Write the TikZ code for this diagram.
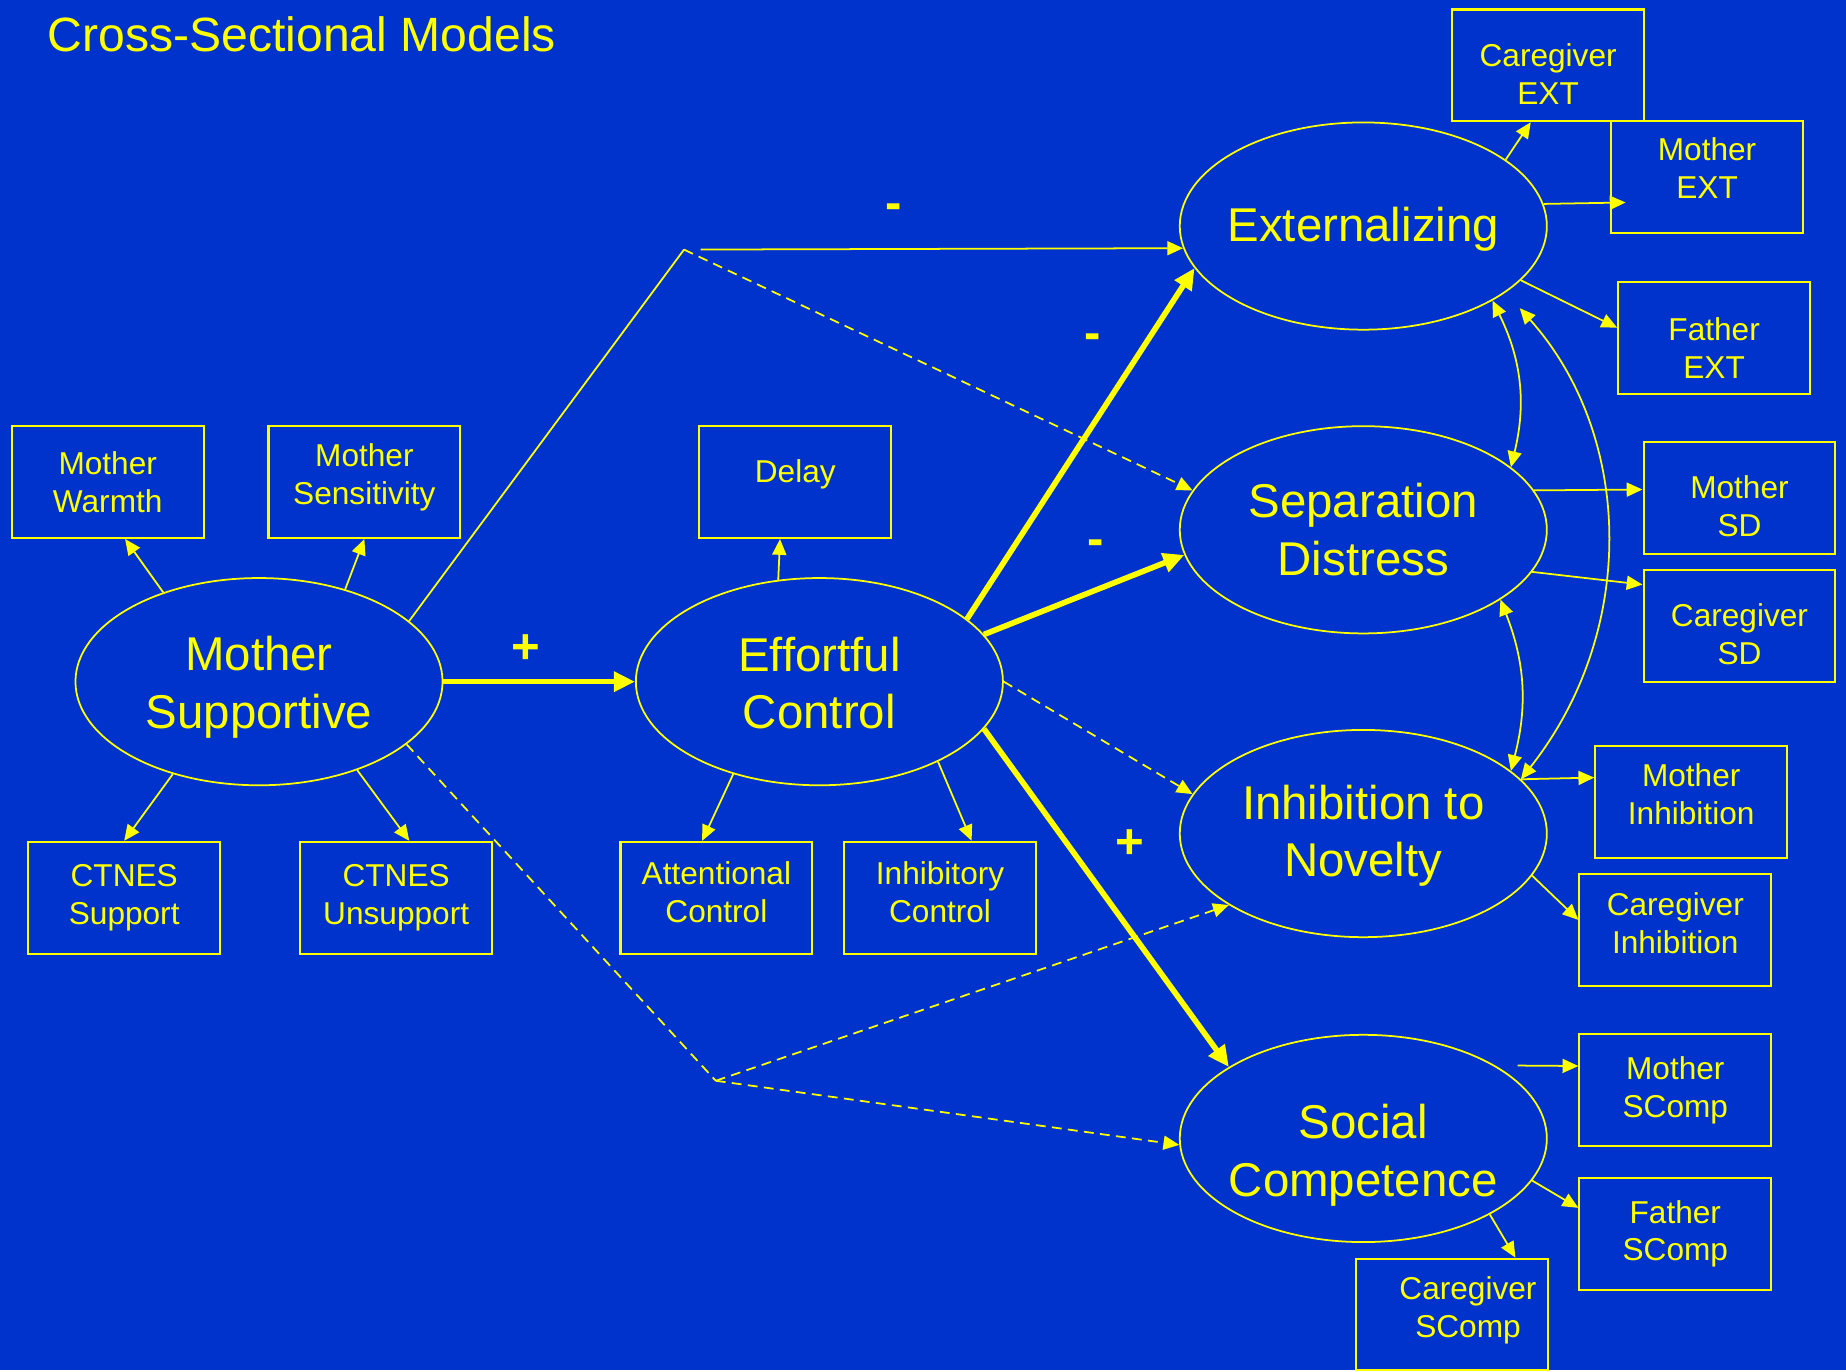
\documentclass[tikz,border=0pt]{standalone}
\usepackage{fontspec}
\setmainfont{Liberation Sans}
\usetikzlibrary{arrows.meta,shapes.geometric}
\definecolor{bgblue}{RGB}{0,51,204}
\definecolor{ylw}{RGB}{255,255,0}
% move a node's lines up or down without moving the node
\newcommand{\lift}[2]{\raisebox{#1}[\height][\depth]{\begin{tabular}{@{}c@{}}#2\end{tabular}}}

\begin{document}
\begin{tikzpicture}[x=0.011773cm,y=-0.011773cm,
    sign/.style={text=ylw,font=\fontsize{14}{14}\selectfont\bfseries,inner sep=0pt}]

      \fill[bgblue] (0,0) rectangle (1568,1164);

      \node[anchor=base west,text=ylw,inner sep=0pt,font=\fontsize{13.7}{16}\selectfont] (title) at (40,44) {Cross-Sectional Models};

      \begin{scope}[every node/.style={ellipse,draw=ylw,line width=.5pt,minimum width=104.5pt,minimum height=59pt,inner sep=-5pt,align=center,text=ylw,font=\fontsize{13.5}{16.4}\selectfont}]
        \node (1) at (220,579)  {\lift{-1.8pt}{Mother\\Supportive}};
        \node (2) at (696,579)  {\lift{-1.9pt}{Effortful\\Control}};
        \node (3) at (1158,192) {\lift{-1.2pt}{Externalizing}};
        \node (4) at (1158,450) {Separation\\Distress};
        \node (5) at (1158,708) {\lift{-0.8pt}{Inhibition to\\Novelty}};
        \node (6) at (1158,967) {\lift{-5pt}{Social\\Competence}};
      \end{scope}

      \begin{scope}[every node/.style={rectangle,draw=ylw,line width=.6pt,minimum width=54.6pt,minimum height=31.8pt,inner sep=0pt,align=center,text=ylw,font=\fontsize{9}{10.8}\selectfont}]
        \node (7)  at (91.5,409.5)   {Mother\\Warmth};
        \node (8)  at (309.5,409.5)  {\lift{1.2pt}{Mother\\Sensitivity}};
        \node (9)  at (105.5,762.5)  {CTNES\\Support};
        \node (10) at (336.5,762.5)  {CTNES\\Unsupport};
        \node (11) at (675.5,409.5)  {\lift{2pt}{Delay}};
        \node (12) at (608.5,762.5)  {\lift{0.6pt}{Attentional\\Control}};
        \node (13) at (798.5,762.5)  {\lift{0.6pt}{Inhibitory\\Control}};
        \node (14) at (1315,55.5)    {\lift{-3.7pt}{Caregiver\\EXT}};
        \node (15) at (1450,150.5)   {\lift{1.6pt}{Mother\\EXT}};
        \node (16) at (1456,287)     {\lift{-4pt}{Father\\EXT}};
        \node (17) at (1477.5,423)   {\lift{-3.5pt}{Mother\\SD}};
        \node (18) at (1477.5,531.5) {\lift{-3.5pt}{Caregiver\\SD}};
        \node (19) at (1436.5,681)   {\lift{1pt}{Mother\\Inhibition}};
        \node (20) at (1423,790)     {\lift{1pt}{Caregiver\\Inhibition}};
        \node (21) at (1423,926)     {Mother\\SComp};
        \node (22) at (1423,1048)    {Father\\SComp};
        \node (23) at (1233.5,1116.5) {\hspace*{9pt}\lift{1pt}{Caregiver\\SComp}};
      \end{scope}

      \coordinate (a) at (581,212);
      \coordinate (b) at (608,918);

      % indicators
      \begin{scope}[every edge/.style={draw=ylw,line width=.5pt,-{Triangle[length=4.5pt,width=4pt]}}]
        \path (1.137) edge (7.287);
        \path (1.47)  edge (8.270);
        \path (1.227) edge (9.90);
        \path (1.318) edge (10.77);
        \path (2.112) edge (11.255);
        \path (2.227) edge (12.104);
        \path (2.326) edge (13.61);
        \path (3.25)  edge (14.253);
        \path (3.7)   edge ([shift={(4.4pt,-7.2pt)}]15.west);
        \path (3.341) edge (16.174);
        \path (4.13)  edge (17.175);
        \path (4.346) edge (18.157);
        \path (5.19)  edge (19.166);
        \path (5.346) edge (20.174);
        \path (6.29)  edge[shorten <=6.4pt] (21.166);
        \path (6.346) edge (22.165);
        \path (6.329) edge (23.42);
        \path (a) edge[shorten <=4.7pt] node[sign,pos=.42,yshift=10.7pt] {-} (3.187);
      \end{scope}

      \path[draw=ylw,line width=.5pt] (1.22) -- (a);

      % structural paths
      \begin{scope}[every edge/.style={draw=ylw,line width=1.6pt,-{Triangle[length=6pt,width=5.5pt]}}]
        \path (1.east)  edge node[sign,pos=.43,yshift=9.4pt] {+} (2.west);
        \path (2.23)    edge node[sign,pos=.79,xshift=-15.4pt] {-} (3.194);
        \path (2.16)    edge node[sign,pos=.56,yshift=12pt] {-} (4.188);
        \path (2.344)   edge node[sign,pos=.34,xshift=17.8pt] {+} (6.152);
      \end{scope}

      \begin{scope}[every edge/.style={draw=ylw,line width=.5pt,dash pattern=on 2.8pt off 1.8pt,-{Triangle[length=4.5pt,width=4pt]}}]
        \path (a)      edge (4.167);
        \path (2.east) edge (5.167);
        \path (b)      edge (5.208);
        \path (b)      edge (6.182);
      \end{scope}

      \path[draw=ylw,line width=.5pt,dash pattern=on 2.8pt off 1.8pt] (1.337) -- (b);

      % correlations
      \begin{scope}[every edge/.style={draw=ylw,line width=.5pt,{Triangle[length=4.5pt,width=4pt]}-{Triangle[length=4.5pt,width=4pt]}}]
        \path (3.330) edge[bend left=20] (4.23);
        \path (3.335) edge[bend left=40,shorten <=6pt] (5.19);
        \path (4.333) edge[bend left=18] (5.23);
      \end{scope}

    \end{tikzpicture}
\end{document}
